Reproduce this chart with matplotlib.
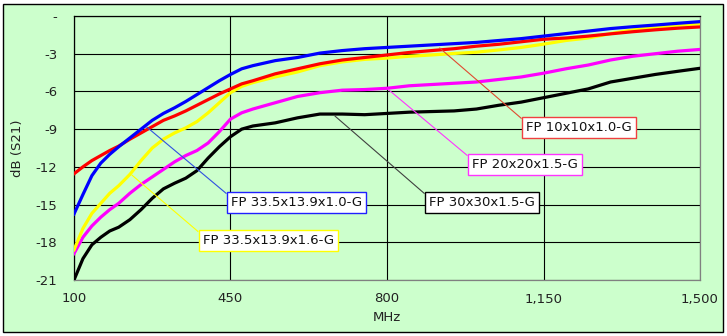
import numpy as np
import matplotlib
matplotlib.use('Agg')
import matplotlib.pyplot as plt
from matplotlib.patches import Rectangle

# frequency points (MHz) and insertion loss curves dB(S21)
freq_mhz = [100, 120, 140, 160, 180, 200, 225, 250, 275, 300, 325, 350, 375, 400, 425, 450, 475, 500,
            550, 600, 650, 700, 750, 800, 850, 900, 950, 1000, 1050, 1100, 1150, 1200, 1250, 1300,
            1350, 1400, 1450, 1500]

fp_10x10_10 = [-12.55, -12.0, -11.5, -11.1, -10.7, -10.35, -9.8, -9.3, -8.8, -8.3, -7.95, -7.55, -7.1, -6.65,
               -6.2, -5.8, -5.4, -5.15, -4.6, -4.2, -3.8, -3.5, -3.3, -3.1, -2.9, -2.75, -2.6, -2.4,
               -2.25, -2.05, -1.85, -1.75, -1.6, -1.42, -1.25, -1.1, -0.97, -0.87]
fp_20x20_15 = [-18.9, -17.6, -16.7, -16.0, -15.4, -14.9, -14.1, -13.4, -12.8, -12.2, -11.6, -11.1, -10.7, -10.1,
               -9.2, -8.2, -7.7, -7.4, -6.9, -6.4, -6.1, -5.9, -5.85, -5.75, -5.55, -5.45, -5.35, -5.25,
               -5.05, -4.85, -4.55, -4.2, -3.9, -3.5, -3.2, -3.0, -2.8, -2.66]
fp_30x30_15 = [-21.0, -19.3, -18.2, -17.6, -17.1, -16.8, -16.2, -15.4, -14.5, -13.75, -13.3, -12.9, -12.3, -11.3,
               -10.4, -9.6, -9.0, -8.75, -8.5, -8.1, -7.8, -7.8, -7.85, -7.75, -7.65, -7.6, -7.55, -7.4,
               -7.1, -6.85, -6.5, -6.15, -5.8, -5.25, -4.95, -4.65, -4.4, -4.16]
fp_335_10 = [-15.75, -14.2, -12.7, -11.7, -11.0, -10.4, -9.7, -9.0, -8.3, -7.75, -7.3, -6.8, -6.25, -5.7,
             -5.15, -4.65, -4.2, -3.95, -3.55, -3.3, -2.95, -2.75, -2.6, -2.5, -2.4, -2.3, -2.2, -2.1,
             -1.95, -1.8, -1.6, -1.4, -1.2, -1.0, -0.85, -0.72, -0.58, -0.45]
fp_335_16 = [-18.6, -16.9, -15.7, -14.9, -14.1, -13.5, -12.6, -11.5, -10.5, -9.8, -9.3, -8.9, -8.4, -7.7,
             -6.9, -6.1, -5.6, -5.3, -4.85, -4.45, -3.95, -3.65, -3.45, -3.35, -3.2, -3.1, -2.98, -2.88,
             -2.7, -2.5, -2.24, -1.95, -1.75, -1.4, -1.1, -0.9, -0.73, -0.63]

series_labels = ["FP 10x10x1.0-G", "FP 20x20x1.5-G", "FP 30x30x1.5-G",
                 "FP 33.5x13.9x1.0-G", "FP 33.5x13.9x1.6-G"]

x_ticks = [100, 450, 800, 1150, 1500]
x_tick_labels = ["100", "450", "800", "1,150", "1,500"]
y_ticks = [-21, -18, -15, -12, -9, -6, -3, 0]
y_tick_labels = ["-21", "-18", "-15", "-12", "-9", "-6", "-3", "-"]

bg = '#CCFFCC'
W, H = 727, 336

fig = plt.figure(figsize=(W / 100, H / 100), dpi=100)
fig.patch.set_facecolor('white')
fig.patches.append(Rectangle((3 / W, 4 / H), 720 / W, 328 / H, transform=fig.transFigure,
                             facecolor=bg, edgecolor='black', lw=1.0, zorder=-10))

ax = fig.add_axes([74 / W, 56 / H, 626 / W, 264 / H])
ax.set_facecolor(bg)

# series: (values, line colour, box edge, leader colour, anchor (x, y), box corner (x, y), box centre (x, y))
curves = [
    (fp_30x30_15, 'black', 'black', '#404040', (684, -7.97), (883, -14.1), (1012, -14.86)),
    (fp_20x20_15, '#FF00FF', '#FF33FF', '#FF33FF', (802, -5.82), (979, -11.08), (1109, -11.83)),
    (fp_335_16, '#FFFF00', '#FFFF00', '#FFFF00', (230, -12.67), (377, -17.13), (536, -17.89)),
    (fp_10x10_10, '#FF0000', '#F04040', '#E04A30', (918, -2.55), (1100, -8.13), (1230, -8.88)),
    (fp_335_10, '#0000FF', '#2020FF', '#3050E0', (263, -8.84), (440, -14.1), (598, -14.86)),
]
order = [2, 1, 4, 0, 3]

for (vals, col, ec, lc, anchor, corner, centre), idx in zip(curves, order):
    ax.plot(freq_mhz, vals, color=col, lw=2.3, zorder=3)

for (vals, col, ec, lc, anchor, corner, centre), idx in zip(curves, order):
    ax.plot([anchor[0], corner[0]], [anchor[1], corner[1]], color=lc, lw=0.8, zorder=5)
    ax.text(centre[0], centre[1], series_labels[idx], ha='center', va='center', fontsize=9.5,
            color='#111111', zorder=6,
            bbox=dict(boxstyle='square,pad=0.3', fc='white', ec=ec, lw=1.0))

ax.set_xlim(100, 1500)
ax.set_ylim(-21, 0)
ax.set_xticks(x_ticks)
ax.set_xticklabels(x_tick_labels)
ax.set_yticks(y_ticks)
ax.set_yticklabels(y_tick_labels)
ax.tick_params(length=0, labelsize=9.5, colors='#222222')
ax.tick_params(axis='x', pad=9)
ax.tick_params(axis='y', pad=12)
ax.grid(True, color='black', lw=0.8, zorder=1)
ax.set_axisbelow(True)

ax.spines['left'].set_color('black')
ax.spines['top'].set_color('black')
ax.spines['bottom'].set_color('#808080')
ax.spines['right'].set_color('#808080')
for s in ax.spines.values():
    s.set_linewidth(0.9)

ax.set_xlabel("MHz", fontsize=9.5, color='#222222', labelpad=4)
ax.set_ylabel("dB (S21)", fontsize=9.5, color='#222222', labelpad=8)

fig.savefig('out.png', dpi=100, facecolor=fig.get_facecolor())
